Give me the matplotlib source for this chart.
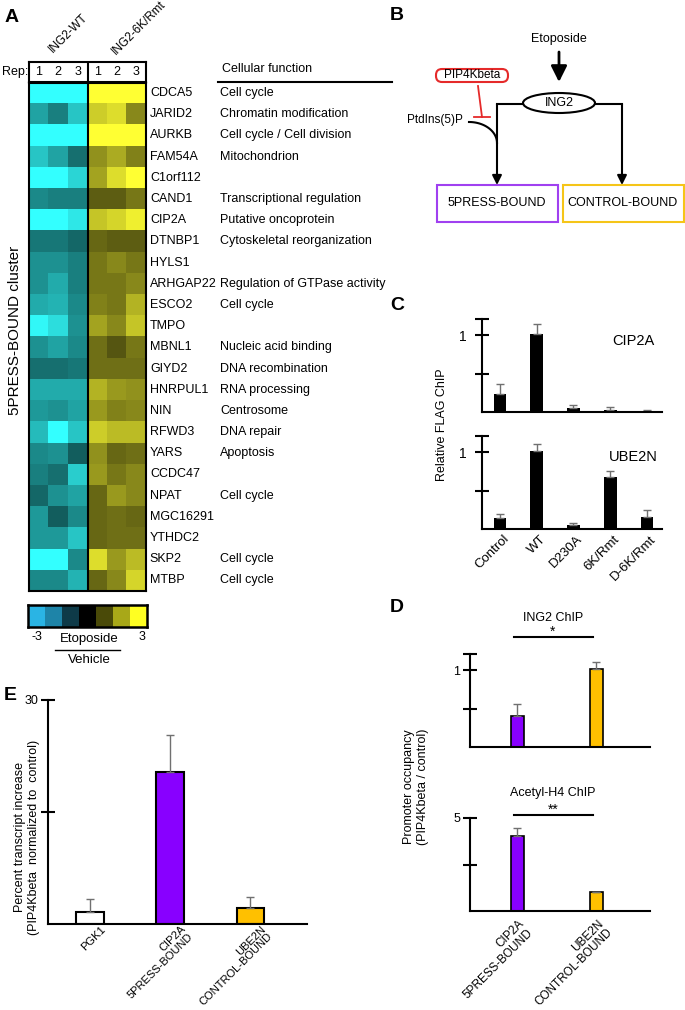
import numpy as np
import matplotlib.pyplot as plt
from matplotlib.colors import LinearSegmentedColormap, ListedColormap
from matplotlib.patches import Ellipse, Rectangle, FancyBboxPatch
from matplotlib.lines import Line2D
from matplotlib.transforms import ScaledTranslation

plt.rcParams["font.family"] = ["Liberation Sans", "DejaVu Sans"]
plt.rcParams["font.size"] = 9

# ---- data ----
genes = ['CDCA5', 'JARID2', 'AURKB', 'FAM54A', 'C1orf112', 'CAND1', 'CIP2A', 'DTNBP1',
         'HYLS1', 'ARHGAP22', 'ESCO2', 'TMPO', 'MBNL1', 'GIYD2', 'HNRPUL1', 'NIN',
         'RFWD3', 'YARS', 'CCDC47', 'NPAT', 'MGC16291', 'YTHDC2', 'SKP2', 'MTBP']
functions = ['Cell cycle', 'Chromatin modification', 'Cell cycle / Cell division', 'Mitochondrion',
             '', 'Transcriptional regulation', 'Putative oncoprotein', 'Cytoskeletal reorganization',
             '', 'Regulation of GTPase activity', 'Cell cycle', '', 'Nucleic acid binding',
             'DNA recombination', 'RNA processing', 'Centrosome', 'DNA repair', 'Apoptosis',
             '', 'Cell cycle', '', '', 'Cell cycle', 'Cell cycle']
# log2 ratio (etoposide / vehicle), ING2-WT reps 1-3 (negative) and ING2-6K/Rmt reps 1-3
wt = [[3, 3, 3], [1.9, 1.5, 2.3], [3, 3, 3], [2.3, 1.9, 1.3], [3, 3, 2.5],
      [1.6, 1.5, 1.5], [3, 3, 2.7], [1.4, 1.4, 1.2], [1.7, 1.7, 1.5], [1.7, 2.0, 1.5],
      [2.0, 2.1, 1.6], [2.9, 2.6, 1.7], [1.7, 1.9, 1.6], [1.3, 1.3, 1.4], [2.0, 2.0, 2.0],
      [1.8, 1.7, 1.9], [2.2, 3.0, 2.3], [1.6, 1.7, 1.1], [1.5, 1.3, 2.4], [1.2, 1.7, 1.9],
      [1.8, 1.1, 1.6], [1.8, 1.8, 2.3], [3, 3, 1.6], [1.6, 1.6, 2.1]]
rmt = [[3, 3, 3], [2.4, 2.6, 1.6], [3, 3, 3], [1.7, 2.0, 1.5], [1.9, 2.6, 3],
       [1.1, 1.1, 1.4], [2.3, 2.5, 2.8], [1.2, 1.1, 1.1], [1.4, 1.6, 1.4], [1.4, 1.4, 1.6],
       [1.5, 1.4, 2.1], [1.9, 1.6, 2.3], [1.3, 1.0, 1.4], [1.3, 1.3, 1.3], [2.1, 1.8, 1.7],
       [1.8, 1.5, 1.6], [2.4, 2.2, 2.2], [1.7, 1.2, 1.3], [1.8, 1.4, 1.6], [1.2, 1.8, 1.6],
       [1.2, 1.3, 1.2], [1.2, 1.3, 1.3], [2.6, 1.8, 2.2], [1.2, 1.6, 2.5]]

c_labels = ['Control', 'WT', 'D230A', '6K/Rmt', 'D-6K/Rmt']
c_cip2a = [0.23, 1.01, 0.056, 0.026, 0.01]
c_cip2a_err = [0.13, 0.13, 0.04, 0.034, 0.01]
c_ube2n = [0.14, 1.01, 0.05, 0.68, 0.16]
c_ube2n_err = [0.05, 0.10, 0.03, 0.08, 0.09]

d_labels = ['CIP2A\n5PRESS-BOUND', 'UBE2N\nCONTROL-BOUND']
d_ing2 = [0.40, 1.02]
d_ing2_err = [0.16, 0.09]
d_acetyl = [4.03, 1.0]
d_acetyl_err = [0.41, 0.04]

e_labels = ['PGK1', 'CIP2A\n5PRESS-BOUND', 'UBE2N\nCONTROL-BOUND']
e_vals = [1.65, 20.3, 2.2]
e_err = [1.75, 5.0, 1.46]

# ---- figure in pixel coordinates ----
W, H = 685, 1010
fig = plt.figure(figsize=(W / 100, H / 100), dpi=100)

def axpx(x0, y0, x1, y1):
    return fig.add_axes([x0 / W, 1 - y1 / H, (x1 - x0) / W, (y1 - y0) / H])

def ftxt(x, y, s, **kw):
    kw.setdefault('ha', 'center')
    kw.setdefault('va', 'center')
    return fig.text(x / W, 1 - y / H, s, **kw)

def fline(x0, x1, y, lw=1.5):
    fig.add_artist(Line2D([x0 / W, x1 / W], [1 - y / H, 1 - y / H], color='black', lw=lw))

def cat_labels(a, xs, labels, dx, dy, fs):
    # rotated category labels, anchored top-right just below the axis
    a.set_xticks([])
    off = ScaledTranslation(dx / 100, -dy / 100, fig.dpi_scale_trans)
    for x, lab in zip(xs, labels):
        a.text(x, 0, lab, transform=a.get_xaxis_transform() + off, rotation=45,
               ha='right', va='top', rotation_mode='anchor', multialignment='right',
               fontsize=fs, linespacing=1.05)

PURPLE = '#8800ff'
GOLD = '#ffc000'
ERR = dict(ecolor='#707070', elinewidth=1, capsize=3, capthick=1)

for lab, x, y in [('A', 12, 18), ('B', 397, 16), ('C', 397, 305), ('D', 397, 608), ('E', 10, 695)]:
    ftxt(x, y, lab, fontsize=14, fontweight='bold')

# ---- A: heatmap ----
cmap = LinearSegmentedColormap.from_list('cy', ['#33ffff', '#000000', '#ffff33'])
data = np.hstack([-np.array(wt), np.array(rmt)])
ax = axpx(29, 82.5, 146, 591)
ax.imshow(data, cmap=cmap, vmin=-3, vmax=3, aspect='auto', interpolation='nearest')
ax.axvline(2.5, color='black', lw=1.5)
ax.set_xticks([])
ax.set_yticks([])
for s in ax.spines.values():
    s.set_linewidth(1.5)
for i, (g, f) in enumerate(zip(genes, functions)):
    ax.text(5.7, i, g, ha='left', va='center', fontsize=9)
    if f:
        ax.text(9.3, i, f, ha='left', va='center', fontsize=9)

axr = axpx(29, 62, 146, 82)
axr.set_xlim(-0.5, 5.5)
axr.set_ylim(0, 1)
axr.axvline(2.5, color='black', lw=1.5)
for i in range(6):
    axr.text(i, 0.5, str(i % 3 + 1), ha='center', va='center', fontsize=9)
axr.set_xticks([])
axr.set_yticks([])
for s in axr.spines.values():
    s.set_linewidth(1.5)
ftxt(2, 72, 'Rep:', ha='left', fontsize=9)
ftxt(55, 55, 'ING2-WT', ha='left', va='bottom', rotation=45, rotation_mode='anchor', fontsize=8.5)
ftxt(118, 57, 'ING2-6K/Rmt', ha='left', va='bottom', rotation=45, rotation_mode='anchor', fontsize=8.5)
ftxt(222, 69, 'Cellular function', ha='left', fontsize=9)
fline(218, 392, 81.5)
ftxt(15, 330, '5PRESS-BOUND cluster', rotation=90, fontsize=11)

axcb = axpx(28, 605, 147, 627)
cb_colors = ['#2ab4e4', '#1e84a8', '#0e3a48', '#000000', '#4a4a08', '#a8a818', '#ffff22']
axcb.imshow(np.arange(7)[None, :], cmap=ListedColormap(cb_colors), aspect='auto')
axcb.set_xticks([])
axcb.set_yticks([])
for s in axcb.spines.values():
    s.set_linewidth(1.8)
ftxt(37, 637, '-3', fontsize=9)
ftxt(142, 637, '3', fontsize=9)
ftxt(89, 639, 'Etoposide', fontsize=9.5)
fline(55, 120, 650, lw=1)
ftxt(89, 660, 'Vehicle', fontsize=9.5)

# ---- B: diagram ----
axb = axpx(380, 0, 685, 260)
axb.set_xlim(380, 685)
axb.set_ylim(260, 0)
axb.axis('off')
arr = dict(arrowstyle='-|>', color='black', lw=1.5, mutation_scale=14, shrinkA=0, shrinkB=0)
axb.text(559, 39, 'Etoposide', ha='center', va='center', fontsize=9)
axb.annotate('', xy=(559, 82), xytext=(559, 52),
             arrowprops=dict(arrowstyle='-|>', color='black', lw=2, mutation_scale=24, shrinkA=0, shrinkB=0))
axb.add_patch(Ellipse((559, 103), 72, 20, fill=False, lw=1.5))
axb.text(559, 103, 'ING2', ha='center', va='center', fontsize=9)
axb.plot([523, 497], [104, 104], color='black', lw=1.5)
axb.plot([595, 622], [104, 104], color='black', lw=1.5)
axb.annotate('', xy=(497, 185), xytext=(497, 104), arrowprops=arr)
axb.annotate('', xy=(622, 185), xytext=(622, 104), arrowprops=arr)
axb.add_patch(FancyBboxPatch((436, 69), 72, 13, boxstyle='round,pad=0,rounding_size=6',
                             fill=False, edgecolor='#e52a2a', lw=1.5))
axb.text(472, 75.5, 'PIP4Kbeta', ha='center', va='center', fontsize=8.5)
axb.plot([478, 482], [86, 117], color='#e52a2a', lw=1.3)
axb.plot([474, 490], [117, 117], color='#e52a2a', lw=1.3)
axb.text(435, 120, 'PtdIns(5)P', ha='center', va='center', fontsize=8.5)
t = np.linspace(0, np.pi / 2, 40)
axb.plot(469 + 28 * np.sin(t), 143 - 21 * np.cos(t), color='black', lw=1.5)
axb.add_patch(Rectangle((437, 185), 121, 37, fill=False, edgecolor='#a040f0', lw=1.5))
axb.text(497, 203.5, '5PRESS-BOUND', ha='center', va='center', fontsize=9)
axb.add_patch(Rectangle((563, 185), 121, 37, fill=False, edgecolor='#f5c518', lw=1.5))
axb.text(623, 203.5, 'CONTROL-BOUND', ha='center', va='center', fontsize=9)

# ---- helpers for bar panels ----
def style_axis(a, yticks, ylabels, pad):
    for s in ['top', 'right']:
        a.spines[s].set_visible(False)
    for s in ['left', 'bottom']:
        a.spines[s].set_linewidth(1.5)
    a.set_yticks(yticks)
    a.set_yticklabels(ylabels)
    a.tick_params(axis='y', direction='inout', length=10, width=1.5, pad=pad)
    a.tick_params(axis='x', length=0)

# ---- C ----
xc = np.arange(len(c_labels))
axc1 = axpx(482, 319, 662, 412)
axc1.bar(xc, c_cip2a, width=0.35, color='black', yerr=[np.zeros(5), c_cip2a_err], error_kw=ERR)
axc1.set_ylim(0, 1.21)
axc1.set_xlim(-0.49, 4.41)
style_axis(axc1, [0.5, 1, 1.21], ['', '1', ''], 6)
axc1.tick_params(axis='y', labelsize=10)
axc1.set_xticks([])
axc2 = axpx(482, 436, 662, 529)
axc2.bar(xc, c_ube2n, width=0.35, color='black', yerr=[np.zeros(5), c_ube2n_err], error_kw=ERR)
axc2.set_ylim(0, 1.21)
axc2.set_xlim(-0.49, 4.41)
style_axis(axc2, [0.5, 1, 1.21], ['', '1', ''], 6)
axc2.tick_params(axis='y', labelsize=10)
cat_labels(axc2, xc, c_labels, 3, 4, 9.5)
ftxt(633, 341, 'CIP2A', fontsize=10.5)
ftxt(633, 457, 'UBE2N', fontsize=10.5)
ftxt(442, 425, 'Relative FLAG ChIP', rotation=90, fontsize=9)

# ---- D ----
xd = np.arange(len(d_labels))
bar_col = [PURPLE, GOLD]
axd1 = axpx(470, 654, 650, 747)
axd1.bar(xd, d_ing2, width=0.165, color=bar_col, edgecolor='black', lw=1.2,
         yerr=[np.zeros(2), d_ing2_err], error_kw=ERR)
axd1.set_ylim(0, 1.21)
axd1.set_xlim(-0.595, 1.68)
style_axis(axd1, [0.5, 1, 1.21], ['', '1', ''], 2)
axd1.set_xticks([])
axd2 = axpx(470, 818, 650, 911)
axd2.bar(xd, d_acetyl, width=0.165, color=bar_col, edgecolor='black', lw=1.2,
         yerr=[np.zeros(2), d_acetyl_err], error_kw=ERR)
axd2.set_ylim(0, 5)
axd2.set_xlim(-0.595, 1.68)
style_axis(axd2, [2.5, 5], ['', '5'], 2)
cat_labels(axd2, xd, d_labels, 1, 7, 8.5)
ftxt(553, 618, 'ING2 ChIP', fontsize=9)
ftxt(553, 632, '*', fontsize=10)
fline(514, 593, 637)
ftxt(553, 793, 'Acetyl-H4 ChIP', fontsize=9)
ftxt(553, 810, '**', fontsize=10)
fline(514, 593, 815)
ftxt(416, 787, 'Promoter occupancy\n(PIP4Kbeta / control)', rotation=90, fontsize=9)

# ---- E ----
xe = np.arange(len(e_labels))
axe = axpx(48, 700, 307, 924)
axe.bar(xe, e_vals, width=0.34, color=['white', PURPLE, GOLD], edgecolor='black', lw=1.5,
        yerr=[np.zeros(3), e_err], error_kw=ERR)
axe.set_ylim(0, 30)
axe.set_xlim(-0.525, 2.71)
style_axis(axe, [15, 30], ['', '30'], 2)
cat_labels(axe, xe, e_labels, 10, 0, 8)
ftxt(27, 837, 'Percent transcript increase\n(PIP4Kbeta  normalized to  control)', rotation=90, fontsize=9)

fig.savefig('out.png', dpi=100)
